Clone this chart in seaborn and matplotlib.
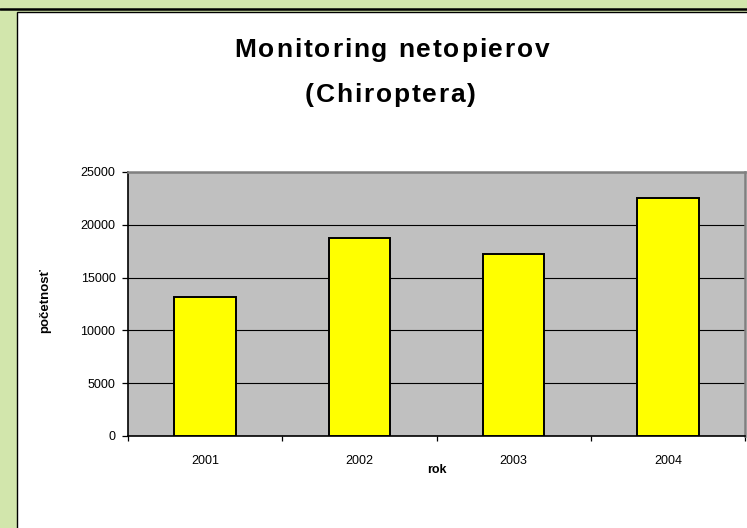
import matplotlib
matplotlib.use("Agg")
import matplotlib.pyplot as plt
import matplotlib.patches as mpatches
import matplotlib.lines as mlines
from matplotlib.ticker import FixedLocator
from matplotlib.font_manager import FontProperties
import seaborn as sns
import pandas as pd

years = ["2001", "2002", "2003", "2004"]
counts = [13150, 18750, 17230, 22540]
yticks = [0, 5000, 10000, 15000, 20000, 25000]
title_lines = ["Monitoring netopierov", "(Chiroptera)"]

sns.set_style("white")
plt.rcParams['font.family'] = ['Liberation Sans', 'DejaVu Sans']
plt.rcParams['text.color'] = 'black'
plt.rcParams['axes.labelcolor'] = 'black'
plt.rcParams['xtick.color'] = 'black'
plt.rcParams['ytick.color'] = 'black'

W, H = 747, 528
fig = plt.figure(figsize=(W / 100, H / 100), dpi=100)
fig.patch.set_facecolor('#d2e6ac')

# white chart area with black border, and the dark line above it
fig.patches.append(mpatches.Rectangle((17 / W, -0.01), 1.0, 1.01 - 12 / H, transform=fig.transFigure,
                                      facecolor='white', edgecolor='black', linewidth=1.0, zorder=-5))
fig.lines.append(mlines.Line2D([0, 1], [1 - 8.5 / H, 1 - 8.5 / H], transform=fig.transFigure,
                               color='black', linewidth=1.8, zorder=-4))

ax = fig.add_axes([128 / W, 1 - 436 / H, (745 - 128) / W, (436 - 172) / H])
ax.set_facecolor('#c0c0c0')

df = pd.DataFrame({"rok": years, "pocet": counts})
sns.barplot(data=df, x="rok", y="pocet", color='#ffff00', edgecolor='black', linewidth=1.4,
            width=0.4, saturation=1, ax=ax, zorder=3)

ax.set_ylim(0, 25000)
ax.set_xlim(-0.5, 3.5)
ax.set_yticks(yticks)
ax.set_yticklabels([str(v) for v in yticks], fontsize=9)
ax.yaxis.grid(True, color='black', linewidth=0.8)
ax.set_axisbelow(True)
ax.tick_params(axis='y', direction='out', length=4.5, width=0.9, color='black', left=True, pad=4.5)
ax.tick_params(axis='x', which='major', length=0, labelsize=9, pad=13.5)
ax.xaxis.set_minor_locator(FixedLocator([-0.5, 0.5, 1.5, 2.5, 3.5]))
ax.tick_params(axis='x', which='minor', direction='out', length=3.8, width=0.9, color='black', bottom=True)

for s in ['left', 'bottom']:
    ax.spines[s].set_color('black')
    ax.spines[s].set_linewidth(1.2)
for s in ['top', 'right']:
    ax.spines[s].set_visible(True)
    ax.spines[s].set_color('#808080')
    ax.spines[s].set_linewidth(1.8)

ax.set_xlabel("rok", fontsize=9, fontweight='bold')
ax.xaxis.set_label_coords((437 - 128) / 617, (436 - 464) / 264)
ax.set_ylabel("početnosť", fontsize=9.5, fontweight='bold')
ax.yaxis.set_label_coords((51 - 128) / 617, (436 - 301) / 264)

# letter-spaced bold title
renderer = fig.canvas.get_renderer()
fp = FontProperties(family=['Liberation Sans', 'DejaVu Sans'], weight='bold', size=19)


def width(s):
    return renderer.get_text_width_height_descent(s, fp, ismath=False)[0]


def spaced_text(s, center_px, baseline_px, spacing):
    base = width("HH")
    adv = [width("H" + c + "H") - base for c in s]
    total = sum(adv) + spacing * (len(s) - 1)
    x = center_px - total / 2
    for c, a in zip(s, adv):
        if c != " ":
            fig.text(x / W, 1 - baseline_px / H, c, ha='left', va='baseline',
                     fontproperties=fp, color='black')
        x += a + spacing


spaced_text(title_lines[0], 392, 57.3, 1.8)
spaced_text(title_lines[1], 390.5, 101.8, 1.8)

fig.savefig("out.png", dpi=100, facecolor=fig.get_facecolor())
